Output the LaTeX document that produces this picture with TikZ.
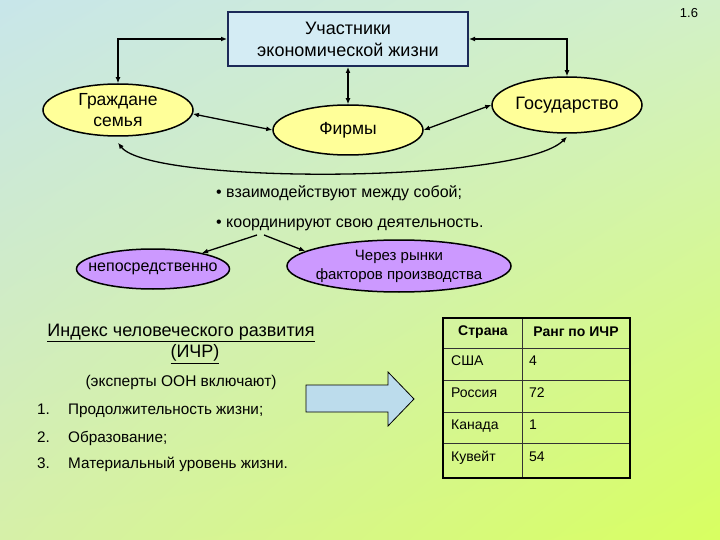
\documentclass[tikz,border=0pt]{standalone}
\usepackage{fontspec}
\setmainfont{Liberation Sans}
\usetikzlibrary{shapes.geometric,arrows.meta,shadings}
\definecolor{bgTL}{HTML}{C8E6EA}
\definecolor{bgTR}{HTML}{D2F0C8}
\definecolor{bgBL}{HTML}{D6F0A8}
\definecolor{bgBR}{HTML}{D8FF60}
\definecolor{yelfill}{HTML}{FFFF99}
\definecolor{purfill}{HTML}{CC99FF}
\definecolor{boxfill}{HTML}{D4ECF4}
\definecolor{boxline}{HTML}{1C2A58}
\definecolor{arrfill}{HTML}{BCDCEC}
\begin{document}
\begin{tikzpicture}[x=1pt,y=-1pt,
  fs/.style 2 args={font=\fontsize{#1}{#2}\selectfont},
  ell/.style={ellipse, draw=black, line width=1.5pt, inner sep=-4pt, align=center},
  yel/.style={ell, fill=yelfill},
  pur/.style={ell, fill=purfill},
  arr/.style={line width=1.3pt, {Latex[length=6pt,width=5pt]}-{Latex[length=6pt,width=5pt]}},
  sarr/.style={line width=1.3pt, -{Latex[length=6pt,width=5pt]}},
  txt/.style={inner sep=0pt},
  litem/.style={inner sep=0pt, anchor=base west, fs={15.3}{18}},
  tcell/.style={inner sep=0pt, fs={14}{16}},
  tline/.style={line width=0.8pt, draw=black!80},
]
\useasboundingbox (0,0) rectangle (720,540);
\shade[upper left=bgTL, upper right=bgTR, lower left=bgBL, lower right=bgBR] (0,0) rectangle (720,540);

\node[txt, fs={13}{15}] (num) at (689,13) {1.6};

% top block
\node[draw=boxline, line width=2pt, fill=boxfill, minimum width=240, minimum height=54,
      align=center, fs={18}{22}] (ue) at (348,39) {Участники\\экономической жизни};
\node[yel, minimum width=150, minimum height=52, fs={17.5}{21}] (gr) at (118,110) {Граждане\\семья};
\node[yel, minimum width=150, minimum height=50, fs={17.5}{20}] (fi) at (348,130) {Фирмы};
\node[yel, minimum width=150, minimum height=56, fs={18}{21}] (go) at (567,105) {Государство};

\draw[arr] (ue.west) -| (gr.north);
\draw[arr] (ue.east) -| (go.north);
\draw[arr] (ue.south) -- (fi.north);
\draw[arr] (gr.-3) -- (fi.west);
\draw[arr] (fi.east) -- (go.west);
\draw[arr] ([yshift=-6pt]gr.south) .. controls +(32,42) and +(-47,47) .. ([yshift=-3pt]go.south);

% bullets
\node[txt, anchor=west, fs={16}{18}] (b1) at (216,193) {• взаимодействуют между собой;};
\node[txt, anchor=west, fs={16}{18}] (b2) at (216,225) {• координируют свою деятельность.};
\coordinate (s1) at (257,235);
\coordinate (s2) at (264,235);
\node[pur, inner xsep=-12pt, minimum width=153, minimum height=40, fs={16}{18}] (np) at (153,269) {непосредственно};
\node[pur, minimum width=222, minimum height=52, fs={15}{19}] (cr) at (399,266) {Через рынки\\факторов производства};
\draw[sarr] (s1) -- (np);
\draw[sarr] (s2) -- (cr.171);

% index text
\node[txt, fs={18}{21}] (t1) at (181,333) {\underline{Индекс человеческого развития}};
\node[txt, fs={18}{21}] (t2) at (195,354) {\underline{(ИЧР)}};
\node[txt, fs={15.5}{18}] (t3) at (181,382) {(эксперты ООН включают)};
\node[litem] (n1) at (37,414) {1.};
\node[litem] (l1) at (68,414) {Продолжительность жизни;};
\node[litem] (n2) at (37,442) {2.};
\node[litem] (l2) at (68,442) {Образование;};
\node[litem] (n3) at (37,468) {3.};
\node[litem] (l3) at (68,468) {Материальный уровень жизни.};

% block arrow
\draw[fill=arrfill, draw=black, line width=0.8pt]
  (306,385) -- (388,385) -- (388,372) -- (414,399) -- (388,426) -- (388,412) -- (306,412) -- cycle;

% table
\draw[tline] (443,348) -- (630,348);
\draw[tline] (443,380) -- (630,380);
\draw[tline] (443,412) -- (630,412);
\draw[tline] (443,443) -- (630,443);
\draw[tline] (522,318) -- (522,478);
\draw[line width=2pt, draw=black] (443,318) rectangle (630,478);
\node[tcell, font=\fontsize{14}{16}\selectfont\bfseries] (h1) at (483,332) {Страна};
\node[tcell, font=\fontsize{14}{16}\selectfont\bfseries] (h2) at (576,332) {Ранг по ИЧР};
\node[tcell, anchor=base west] (c1) at (451,365) {США};
\node[tcell, anchor=base west] (r1) at (529,365) {4};
\node[tcell, anchor=base west] (c2) at (451,397) {Россия};
\node[tcell, anchor=base west] (r2) at (529,397) {72};
\node[tcell, anchor=base west] (c3) at (451,429) {Канада};
\node[tcell, anchor=base west] (r3) at (529,429) {1};
\node[tcell, anchor=base west] (c4) at (451,461) {Кувейт};
\node[tcell, anchor=base west] (r4) at (529,461) {54};
\end{tikzpicture}
\end{document}
